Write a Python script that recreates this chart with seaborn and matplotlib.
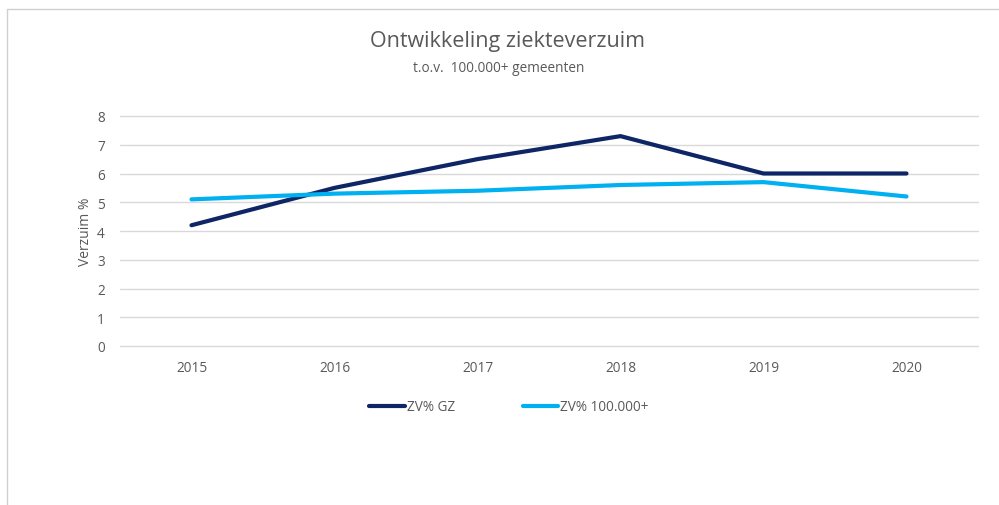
import matplotlib
matplotlib.use("Agg")
import matplotlib.pyplot as plt
import matplotlib.patches as mpatches
from matplotlib.lines import Line2D
import seaborn as sns
import pandas as pd

years = ["2015", "2016", "2017", "2018", "2019", "2020"]
zv_gz = [4.2, 5.5, 6.5, 7.3, 6.0, 6.0]
zv_100k = [5.1, 5.3, 5.4, 5.6, 5.7, 5.2]
series_names = ["ZV% GZ", "ZV% 100.000+"]
colors = ["#0E2566", "#00B0F0"]

df = pd.DataFrame({
    "jaar": years * 2,
    "idx": list(range(len(years))) * 2,
    "verzuim": zv_gz + zv_100k,
    "reeks": [series_names[0]] * len(years) + [series_names[1]] * len(years),
})

sns.set_theme(style="white")
plt.rcParams["font.family"] = ["Open Sans", "DejaVu Sans"]

W, H = 999, 506
fig = plt.figure(figsize=(W / 100, H / 100), dpi=100)
ax = fig.add_axes([120 / W, 1 - 347 / H, (978 - 120) / W, (347 - 117) / H])

sns.lineplot(data=df, x="idx", y="verzuim", hue="reeks",
             palette=dict(zip(series_names, colors)), linewidth=3,
             ax=ax, legend=False, sort=False)
for line in ax.lines:
    line.set_solid_capstyle("round")
    line.set_solid_joinstyle("round")

ax.set_xlim(-0.5, len(years) - 0.5)
ax.set_ylim(0, 8)
ax.set_yticks(range(0, 9))
ax.set_xticks(range(len(years)))
ax.set_xticklabels(years)
ax.grid(axis="y", color="#D9D9D9", linewidth=1)
for gl in ax.get_ygridlines():
    gl.set_clip_on(False)
ax.set_axisbelow(True)
for s in ax.spines.values():
    s.set_visible(False)
ax.tick_params(axis="both", length=0, labelsize=9.8, labelcolor="#595959")
ax.tick_params(axis="y", pad=11)
ax.tick_params(axis="x", pad=10)
ax.set_xlabel("")
ax.set_ylabel("Verzuim %", fontsize=10, color="#595959", labelpad=3)

fig.text(507 / W, 1 - 42 / H, "Ontwikkeling ziekteverzuim", ha="center",
         va="center", fontsize=15.5, color="#595959")
fig.text(499 / W, 1 - 69 / H, "t.o.v.  100.000+ gemeenten", ha="center",
         va="center", fontsize=9.8, color="#595959")

handles = [Line2D([0], [0], color=c, linewidth=3, solid_capstyle="round")
           for c in colors]
fig.legend(handles, series_names, loc="center", bbox_to_anchor=(509 / W, 1 - 408 / H),
           ncol=2, frameon=False, fontsize=9.8, handlelength=2.6,
           handletextpad=0.15, columnspacing=5.0, labelcolor="#595959")

# chart frame
fig.add_artist(mpatches.Rectangle((7 / W, -0.05), 1.05, 1 - 10 / H + 0.05,
                                  transform=fig.transFigure, fill=False,
                                  edgecolor="#D0D0D0", linewidth=1))

fig.savefig("out.png", dpi=100)
